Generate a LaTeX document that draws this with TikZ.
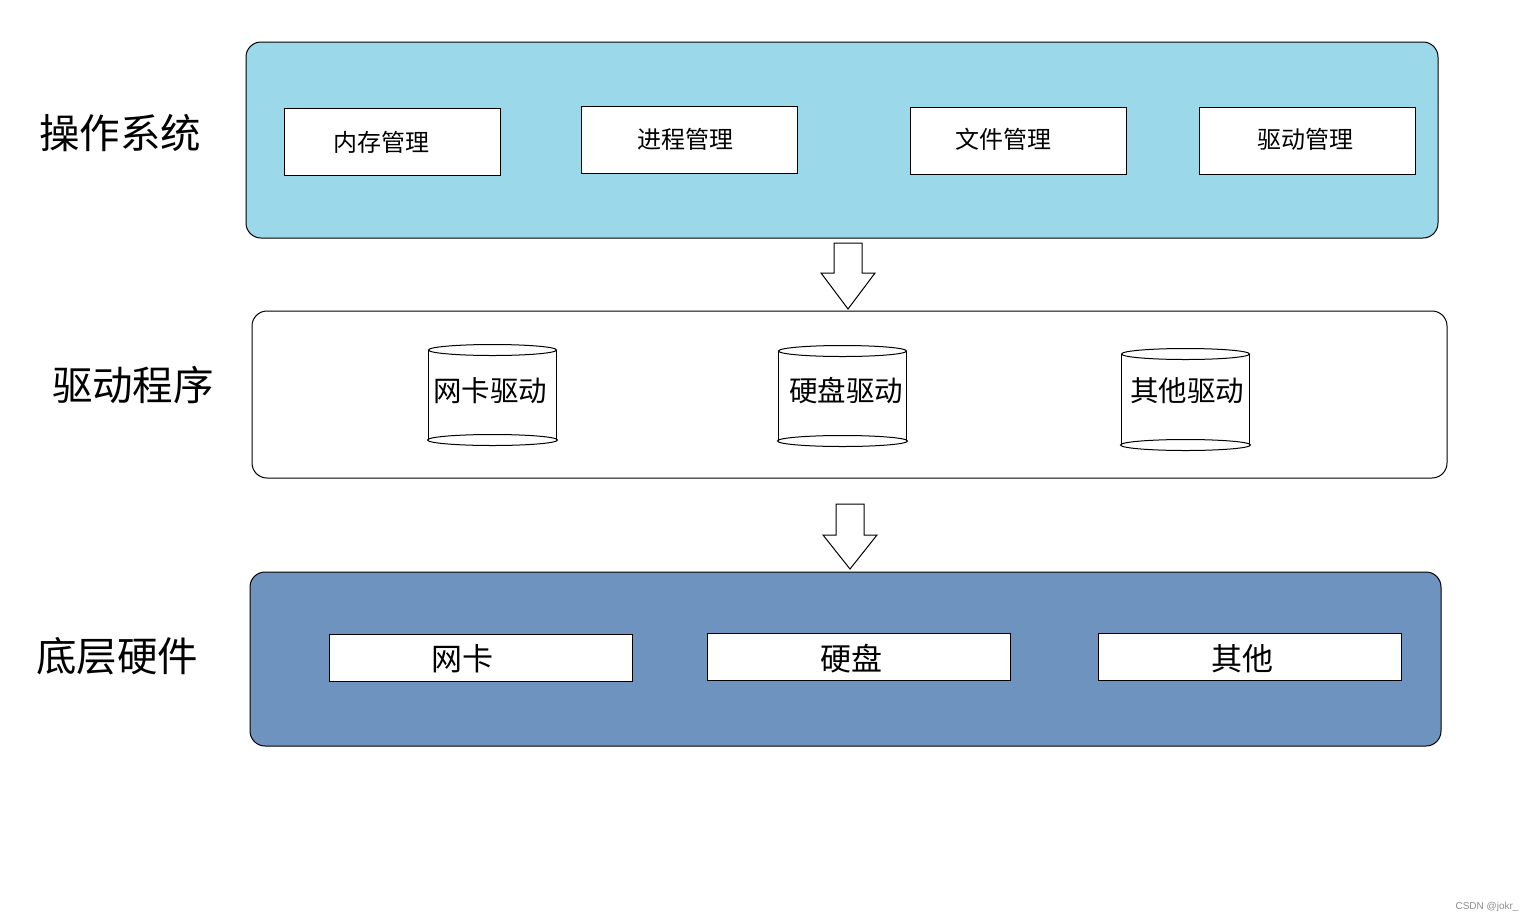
\documentclass[tikz,border=0pt]{standalone}
\usepackage{fontspec}
\newfontfamily\cjk{Noto Sans CJK SC}
\usetikzlibrary{positioning,calc}
\definecolor{osblue}{HTML}{9BD9EA}
\definecolor{hwblue}{HTML}{6F93BF}
\tikzset{
  layer/.style={draw=black, line width=1pt, rounded corners=15pt},
  itembox/.style={draw=black, line width=1pt, fill=white, inner sep=0pt, minimum width=216pt, minimum height=67pt},
  hwbox/.style={draw=black, line width=1pt, fill=white, inner sep=0pt, minimum width=303pt, minimum height=47pt},
  itemtext/.style={font=\cjk\fontsize{24}{24}\selectfont, inner sep=0pt},
  hwtext/.style={font=\cjk\fontsize{31}{31}\selectfont, inner sep=0pt},
  side/.style={font=\cjk\fontsize{40.5}{40.5}\selectfont, inner sep=0pt},
  cyl/.style={line width=1pt, draw=black},
  cyltext/.style={font=\cjk\fontsize{28.5}{28.5}\selectfont, inner sep=0pt},
  blockarrow/.style={draw=black, line width=1pt, fill=white, line join=miter}
}
\begin{document}
\begin{tikzpicture}[x=1pt,y=-1pt]
\useasboundingbox[fill=white] (0,0) rectangle (1535,922);

% layers
\draw[layer, fill=osblue] (246,42) rectangle (1438,238);
\draw[layer, fill=white] (252,311) rectangle (1447,478);
\draw[layer, fill=hwblue] (250,572) rectangle (1441,746);

% side labels
\node[side] (lblos) at (120,133) {操作系统};
\node[side] (lbldrv) at (133,385) {驱动程序};
\node[side] (lblhw) at (117,656) {底层硬件};

% OS items
\node[itembox] (mem) at (392,141.5) {};
\node[itembox] (proc) at (689,139.5) {};
\node[itembox] (file) at (1018,140.5) {};
\node[itembox] (drvm) at (1307,140.5) {};
\node[itemtext] (memt) at (381.5,142) {内存管理};
\node[itemtext] (proct) at (685,139) {进程管理};
\node[itemtext] (filet) at (1003.5,139) {文件管理};
\node[itemtext] (drvmt) at (1305.5,139) {驱动管理};

% cylinders
\foreach \n/\cx/\ty/\by/\tx/\t in {nicd/492.5/350/440/490/网卡驱动, diskd/842.5/351/441/846/硬盘驱动, othd/1185.5/354/445/1187/其他驱动}{
  \draw[cyl] (\cx-64,\ty) -- (\cx-64,\by);
  \draw[cyl] (\cx+64,\ty) -- (\cx+64,\by);
  \draw[cyl, fill=white] (\cx,\ty) ellipse [x radius=64, y radius=5.5];
  \draw[cyl] (\cx,\by) ellipse [x radius=65, y radius=5.5];
  \node[cyltext] (\n) at (\tx,391) {\t};
}

% hardware items
\node[hwbox] (nic) at (480.5,657.5) {};
\node[hwbox] (disk) at (858.5,656.5) {};
\node[hwbox] (other) at (1249.5,656.5) {};
\node[hwtext] (nict) at (462,659) {网卡};
\node[hwtext] (diskt) at (851,659) {硬盘};
\node[hwtext] (othert) at (1242,659) {其他};

% block arrows
\coordinate (a1) at (848,243);
\coordinate (a2) at (850,504);
\draw[blockarrow] (a1) ++(-14,0) -- ++(0,30) -- ++(-13,0) -- (848,309) -- (875,273) -- ++(-13,0) -- ++(0,-30) -- cycle;
\draw[blockarrow] (a2) ++(-14,0) -- ++(0,31) -- ++(-13,0) -- (850,569) -- (877,535) -- ++(-13,0) -- ++(0,-31) -- cycle;

% watermark
\node[font=\fontspec{Liberation Sans}\fontsize{10}{10}\selectfont, text=black!45, inner sep=0pt] (wm) at (1487,907) {CSDN @jokr\_};
\end{tikzpicture}
\end{document}
